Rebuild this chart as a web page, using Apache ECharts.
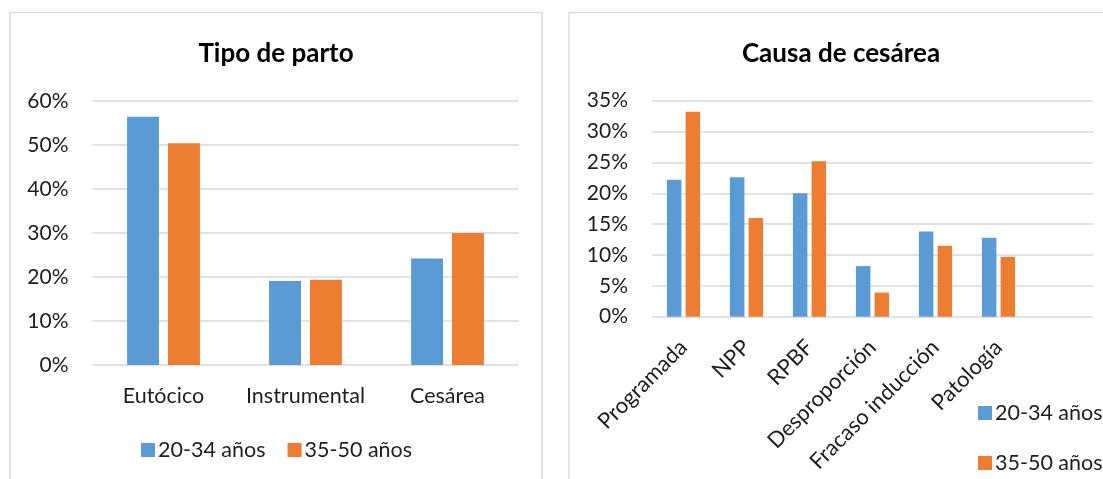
<!DOCTYPE html>
<html>
<head>
<meta charset="utf-8">
<script src="https://cdn.jsdelivr.net/npm/echarts@6/dist/echarts.min.js"></script>
<style>
  html, body { margin: 0; padding: 0; background: #fff; }
  #chart { width: 1103px; height: 479px; }
</style>
</head>
<body>
<div id="chart"></div>
<script>
// Tipo de parto por grupo de edad (%)
const partoCategorias = ['Eutócico', 'Instrumental', 'Cesárea'];
const parto2034 = [56.4, 19.1, 24.2];
const parto3550 = [50.4, 19.4, 30.0];

// Causa de cesárea por grupo de edad (%)
const causaCategorias = ['Programada', 'NPP', 'RPBF', 'Desproporción', 'Fracaso inducción', 'Patología', ''];
const causa2034 = [22.2, 22.6, 20.0, 8.2, 13.8, 12.8, null];
const causa3550 = [33.2, 16.0, 25.2, 3.9, 11.5, 9.7, null];

const seriesNames = ['20-34 años', '35-50 años'];
const partoTicks = { min: 0, max: 60, interval: 10 };
const causaTicks = { min: 0, max: 35, interval: 5 };

const FONT = 'Lato';
const TEXT = '#1e1e1e';
const BLUE = '#5B9BD5';
const ORANGE = '#ED7D31';
const GRID_LINE = { lineStyle: { color: '#d9d9d9', width: 1.5 } };

const chart = echarts.init(document.getElementById('chart'), null, { renderer: 'canvas' });

const valueAxis = (ticks, grid) => ({
  type: 'value', gridIndex: grid,
  min: ticks.min, max: ticks.max, interval: ticks.interval,
  axisLine: { show: false }, axisTick: { show: false },
  splitLine: GRID_LINE,
  axisLabel: { formatter: '{value}%', color: TEXT, fontFamily: FONT, fontSize: 21, margin: 24 }
});

const legendText = { color: TEXT, fontFamily: FONT, fontSize: 21.5, lineHeight: 24, padding: [0, 0, 0, -2] };

chart.setOption({
  animation: false,
  textStyle: { fontFamily: FONT },
  graphic: [
    { type: 'rect', shape: { x: 10, y: 12.5, width: 532, height: 480 },
      style: { fill: 'none', stroke: '#d9d9d9', lineWidth: 1.5 }, z: -1 },
    { type: 'rect', shape: { x: 569, y: 12.5, width: 600, height: 480 },
      style: { fill: 'none', stroke: '#d9d9d9', lineWidth: 1.5 }, z: -1 },
    { type: 'text', x: 276, y: 54,
      style: { text: 'Tipo de parto', fill: '#000', font: 'bold 26px Lato', textAlign: 'center', textVerticalAlign: 'middle' } },
    { type: 'text', x: 841, y: 54,
      style: { text: 'Causa de cesárea', fill: '#000', font: 'bold 26px Lato', textAlign: 'center', textVerticalAlign: 'middle' } }
  ],
  legend: [
    { data: seriesNames, orient: 'horizontal', left: 141, top: 438, padding: 0,
      itemWidth: 14, itemHeight: 14, itemGap: 22, icon: 'rect', textStyle: legendText },
    { data: seriesNames, orient: 'vertical', left: 978, top: 401, padding: 0,
      itemWidth: 14, itemHeight: 14, itemGap: 26, icon: 'rect', textStyle: legendText }
  ],
  grid: [
    { left: 92.5, top: 101, width: 426, height: 264 },
    { left: 652, top: 100.7, width: 441, height: 216 }
  ],
  xAxis: [
    { type: 'category', gridIndex: 0, data: partoCategorias,
      axisLine: { show: false }, axisTick: { show: false },
      axisLabel: { color: TEXT, fontFamily: FONT, fontSize: 21.5, lineHeight: 24, margin: 19, interval: 0 } },
    { type: 'category', gridIndex: 1, data: causaCategorias,
      axisLine: { show: false }, axisTick: { show: false },
      axisLabel: { color: TEXT, fontFamily: FONT, fontSize: 22, rotate: 45, margin: 27, interval: 0 } }
  ],
  yAxis: [ valueAxis(partoTicks, 0), valueAxis(causaTicks, 1) ],
  series: [
    { name: seriesNames[0], type: 'bar', xAxisIndex: 0, yAxisIndex: 0, data: parto2034,
      itemStyle: { color: BLUE }, barWidth: '22.5%', barGap: '28%' },
    { name: seriesNames[1], type: 'bar', xAxisIndex: 0, yAxisIndex: 0, data: parto3550,
      itemStyle: { color: ORANGE }, barWidth: '22.5%', barGap: '28%' },
    { name: seriesNames[0], type: 'bar', xAxisIndex: 1, yAxisIndex: 1, data: causa2034,
      itemStyle: { color: BLUE }, barWidth: '23%', barGap: '29%' },
    { name: seriesNames[1], type: 'bar', xAxisIndex: 1, yAxisIndex: 1, data: causa3550,
      itemStyle: { color: ORANGE }, barWidth: '23%', barGap: '29%' }
  ]
});
</script>
</body>
</html>
